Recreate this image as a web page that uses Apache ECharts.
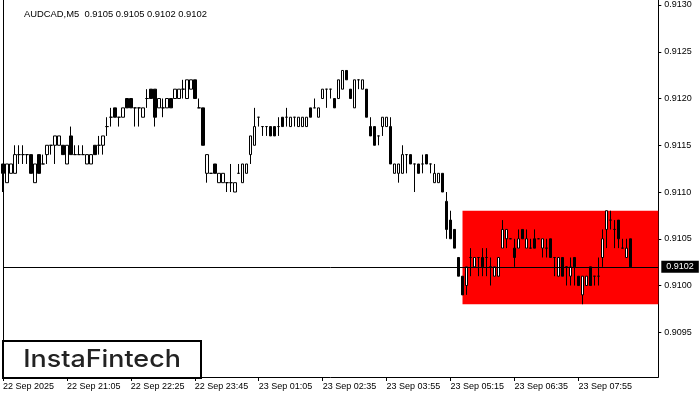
<!DOCTYPE html>
<html><head><meta charset="utf-8">
<script src="https://cdn.jsdelivr.net/npm/echarts@6/dist/echarts.min.js"></script>
<style>html,body{margin:0;padding:0;background:#fff}#c{width:700px;height:400px}</style>
</head><body><div id="c"></div>
<script>
const titleText = 'AUDCAD,M5  0.9105 0.9105 0.9102 0.9102';
const tickLabels = ['22 Sep 2025','22 Sep 21:05','22 Sep 22:25','22 Sep 23:45','23 Sep 01:05','23 Sep 02:35','23 Sep 03:55','23 Sep 05:15','23 Sep 06:35','23 Sep 07:55'];
const tickEvery = 16;
const slotCount = 165;
const yTicks = [0.9095,0.9100,0.9105,0.9110,0.9115,0.9120,0.9125,0.9130];
const yMin = 0.909022, yMax = 0.9130535;
const lastPrice = 0.9102;
const zoneTop = 0.9108, zoneBottom = 0.9098, zoneStart = 115;

const open = [0.9113,0.9111,0.9112,0.9112,0.9114,0.9114,0.9114,0.9114,0.9111,0.9114,
 0.9113,0.9114,0.9115,0.9115,0.9115,0.9115,0.9113,0.9116,0.9114,0.9114,
 0.9114,0.9113,0.9113,0.9115,0.9115,0.9115,0.9117,0.9118,0.9119,0.9118,
 0.9118,0.9120,0.9120,0.9119,0.9119,0.9118,0.9120,0.9121,0.9121,0.9119,
 0.9119,0.9119,0.9120,0.9120,0.9120,0.9121,0.9120,0.9121,0.9122,0.9119,
 0.9119,0.9112,0.9112,0.9113,0.9111,0.9111,0.9111,0.9111,0.9110,0.9112,
 0.9111,0.9112,0.9114,0.9115,0.9118,0.9117,0.9117,0.9117,0.9117,0.9117,
 0.9118,0.9118,0.9117,0.9118,0.9117,0.9117,0.9117,0.9119,0.9119,0.9118,
 0.9120,0.9121,0.9121,0.9120,0.9120,0.9121,0.9123,0.9121,0.9119,0.9122,
 0.9121,0.9121,0.9117,0.9117,0.9116,0.9117,0.9117,0.9117,0.9112,0.9112,
 0.9112,0.9114,0.9114,0.9113,0.9113,0.9113,0.9114,0.9113,0.9111,0.9111,
 0.9112,0.9109,0.9107,0.9106,0.9103,0.9101,0.9100,0.9103,0.9102,0.9103,
 0.9103,0.9103,0.9102,0.9101,0.9101,0.9104,0.9105,0.9105,0.9104,0.9104,
 0.9106,0.9104,0.9104,0.9105,0.9105,0.9104,0.9104,0.9105,0.9103,0.9101,
 0.9103,0.9102,0.9101,0.9103,0.9101,0.9099,0.9100,0.9102,0.9101,0.9101,
 0.9103,0.9106,0.9107,0.9106,0.9107,0.9104,0.9103,0.9105];
const close = [0.9112,0.9113,0.9113,0.9114,0.9114,0.9114,0.9114,0.9112,0.9113,0.9112,
 0.9113,0.9115,0.9115,0.9116,0.9116,0.9114,0.9115,0.9114,0.9114,0.9114,
 0.9114,0.9114,0.9114,0.9114,0.9115,0.9116,0.9117,0.9118,0.9118,0.9118,
 0.9119,0.9119,0.9119,0.9119,0.9119,0.9119,0.9120,0.9120,0.9118,0.9120,
 0.9119,0.9120,0.9119,0.9121,0.9121,0.9121,0.9122,0.9122,0.9120,0.9119,
 0.9115,0.9114,0.9112,0.9112,0.9112,0.9112,0.9111,0.9111,0.9111,0.9112,
 0.9113,0.9113,0.9116,0.9117,0.9118,0.9117,0.9117,0.9116,0.9116,0.9117,
 0.9117,0.9118,0.9118,0.9118,0.9118,0.9118,0.9118,0.9118,0.9119,0.9119,
 0.9121,0.9121,0.9121,0.9119,0.9122,0.9123,0.9122,0.9120,0.9122,0.9122,
 0.9122,0.9118,0.9116,0.9115,0.9116,0.9118,0.9118,0.9113,0.9113,0.9113,
 0.9114,0.9114,0.9113,0.9113,0.9112,0.9113,0.9113,0.9113,0.9112,0.9112,
 0.9110,0.9106,0.9105,0.9104,0.9101,0.9099,0.9102,0.9103,0.9103,0.9103,
 0.9102,0.9103,0.9102,0.9102,0.9103,0.9106,0.9106,0.9105,0.9103,0.9105,
 0.9105,0.9105,0.9104,0.9104,0.9105,0.9105,0.9104,0.9103,0.9103,0.9103,
 0.9101,0.9102,0.9102,0.9102,0.9100,0.9101,0.9101,0.9100,0.9101,0.9101,
 0.9105,0.9108,0.9107,0.9106,0.9105,0.9104,0.9104,0.9102];
const low = [0.9110,0.9111,0.9112,0.9112,0.9113,0.9113,0.9113,0.9112,0.9111,0.9112,
 0.9113,0.9113,0.9114,0.9113,0.9115,0.9114,0.9113,0.9114,0.9114,0.9114,
 0.9114,0.9113,0.9113,0.9114,0.9114,0.9114,0.9116,0.9117,0.9118,0.9117,
 0.9118,0.9119,0.9119,0.9117,0.9117,0.9118,0.9119,0.9120,0.9117,0.9119,
 0.9118,0.9119,0.9119,0.9120,0.9120,0.9120,0.9120,0.9121,0.9120,0.9119,
 0.9115,0.9111,0.9112,0.9112,0.9111,0.9111,0.9110,0.9110,0.9110,0.9112,
 0.9111,0.9112,0.9113,0.9115,0.9117,0.9116,0.9116,0.9116,0.9116,0.9116,
 0.9117,0.9117,0.9117,0.9117,0.9117,0.9117,0.9117,0.9118,0.9119,0.9118,
 0.9120,0.9119,0.9120,0.9119,0.9120,0.9121,0.9122,0.9120,0.9119,0.9121,
 0.9121,0.9118,0.9116,0.9115,0.9115,0.9116,0.9117,0.9113,0.9112,0.9111,
 0.9112,0.9112,0.9113,0.9110,0.9112,0.9112,0.9113,0.9112,0.9111,0.9111,
 0.9110,0.9105,0.9105,0.9104,0.9101,0.9099,0.9099,0.9101,0.9102,0.9101,
 0.9101,0.9101,0.9100,0.9101,0.9101,0.9104,0.9104,0.9105,0.9102,0.9104,
 0.9105,0.9104,0.9104,0.9104,0.9105,0.9103,0.9103,0.9103,0.9101,0.9101,
 0.9101,0.9100,0.9100,0.9100,0.9100,0.9098,0.9100,0.9100,0.9100,0.9100,
 0.9102,0.9104,0.9106,0.9104,0.9104,0.9104,0.9103,0.9102];
const high = [0.9113,0.9113,0.9113,0.9115,0.9115,0.9115,0.9114,0.9114,0.9113,0.9114,
 0.9114,0.9115,0.9115,0.9116,0.9116,0.9115,0.9115,0.9117,0.9115,0.9115,
 0.9115,0.9114,0.9114,0.9115,0.9116,0.9116,0.9118,0.9119,0.9119,0.9118,
 0.9119,0.9120,0.9120,0.9119,0.9119,0.9119,0.9121,0.9121,0.9121,0.9120,
 0.9120,0.9120,0.9120,0.9121,0.9121,0.9122,0.9122,0.9122,0.9122,0.9120,
 0.9119,0.9114,0.9112,0.9113,0.9112,0.9112,0.9111,0.9113,0.9111,0.9113,
 0.9113,0.9113,0.9116,0.9119,0.9118,0.9117,0.9117,0.9117,0.9117,0.9118,
 0.9118,0.9119,0.9118,0.9118,0.9118,0.9118,0.9118,0.9119,0.9120,0.9119,
 0.9121,0.9121,0.9121,0.9120,0.9122,0.9123,0.9123,0.9121,0.9122,0.9122,
 0.9122,0.9121,0.9118,0.9117,0.9116,0.9118,0.9118,0.9118,0.9113,0.9113,
 0.9115,0.9114,0.9114,0.9113,0.9113,0.9114,0.9114,0.9113,0.9113,0.9112,
 0.9112,0.9110,0.9108,0.9106,0.9103,0.9101,0.9102,0.9104,0.9103,0.9103,
 0.9104,0.9104,0.9103,0.9102,0.9103,0.9107,0.9106,0.9105,0.9105,0.9106,
 0.9106,0.9106,0.9105,0.9106,0.9105,0.9105,0.9105,0.9105,0.9103,0.9103,
 0.9103,0.9102,0.9103,0.9103,0.9101,0.9101,0.9101,0.9102,0.9101,0.9103,
 0.9106,0.9108,0.9108,0.9107,0.9107,0.9105,0.9105,0.9105];

const categories = Array.from({length: slotCount}, (_, i) => 'bar' + i);
const ohlc = open.map((o, i) => [o, close[i], low[i], high[i]]);
const FONT = 'Liberation Sans, Arial, sans-serif';
const showTick = (i) => i % tickEvery === 0 && i / tickEvery < tickLabels.length;

const chart = echarts.init(document.getElementById('c'));
chart.setOption({
  animation: false,
  backgroundColor: '#fff',
  title: { text: titleText, left: 19, top: 5,
    textStyle: { fontSize: 9.4, fontWeight: 'normal', color: '#000', fontFamily: FONT } },
  grid: { left: 2.5, right: 41.7, top: 0, bottom: 23 },
  xAxis: {
    type: 'category', data: categories, boundaryGap: false,
    axisLine: { show: true, lineStyle: { color: '#000', width: 1 } },
    axisTick: { show: true, interval: showTick, length: 4, lineStyle: { color: '#000' } },
    axisLabel: { interval: showTick, formatter: (v, i) => tickLabels[i / tickEvery] || '',
      align: 'left', color: '#000', fontSize: 9, fontFamily: FONT, margin: 5 },
    splitLine: { show: false }
  },
  yAxis: [{
    type: 'value', position: 'right', min: yMin, max: yMax,
    splitLine: { show: false },
    axisLine: { show: true, lineStyle: { color: '#000' } },
    axisTick: { show: true, length: 3, lineStyle: { color: '#000' }, customValues: yTicks },
    axisLabel: { customValues: yTicks, formatter: v => v.toFixed(4), color: '#000',
      fontSize: 9, fontFamily: FONT, margin: 6 }
  }, {
    type: 'value', position: 'left', min: yMin, max: yMax,
    splitLine: { show: false }, axisTick: { show: false }, axisLabel: { show: false },
    axisLine: { show: true, lineStyle: { color: '#000' } }
  }],
  series: [{
    type: 'line', data: [], z: 1, silent: true,
    markArea: { silent: true, itemStyle: { color: '#ff0000', opacity: 1 },
      data: [[{ xAxis: categories[zoneStart], yAxis: zoneTop },
              { xAxis: categories[slotCount - 1], yAxis: zoneBottom }]] }
  }, {
    type: 'candlestick', data: ohlc, z: 3, barWidth: 3,
    itemStyle: { color: '#fff', color0: '#000', borderColor: '#000', borderColor0: '#000', borderWidth: 1 },
    markLine: {
      silent: true, precision: 4, symbol: ['none', 'none'],
      lineStyle: { color: '#000', width: 1, type: 'solid' },
      label: { show: true, position: 'end', formatter: lastPrice.toFixed(4), color: '#fff',
        backgroundColor: '#000', padding: [2, 5, 1, 5], fontSize: 9, fontFamily: FONT, distance: 3 },
      data: [{ yAxis: lastPrice }]
    }
  }],
  graphic: [
    { type: 'rect', z: 10, shape: { x: 3, y: 341, width: 198, height: 37 },
      style: { fill: '#fff', stroke: '#000', lineWidth: 2 } },
    { type: 'text', z: 11, x: 102, y: 359.5, scaleX: 1.12,
      style: { text: 'InstaFintech', fill: '#222', fontSize: 24, fontWeight: 500, fontFamily: 'Inter, sans-serif',
        align: 'center', verticalAlign: 'middle' } }
  ]
});
</script></body></html>
